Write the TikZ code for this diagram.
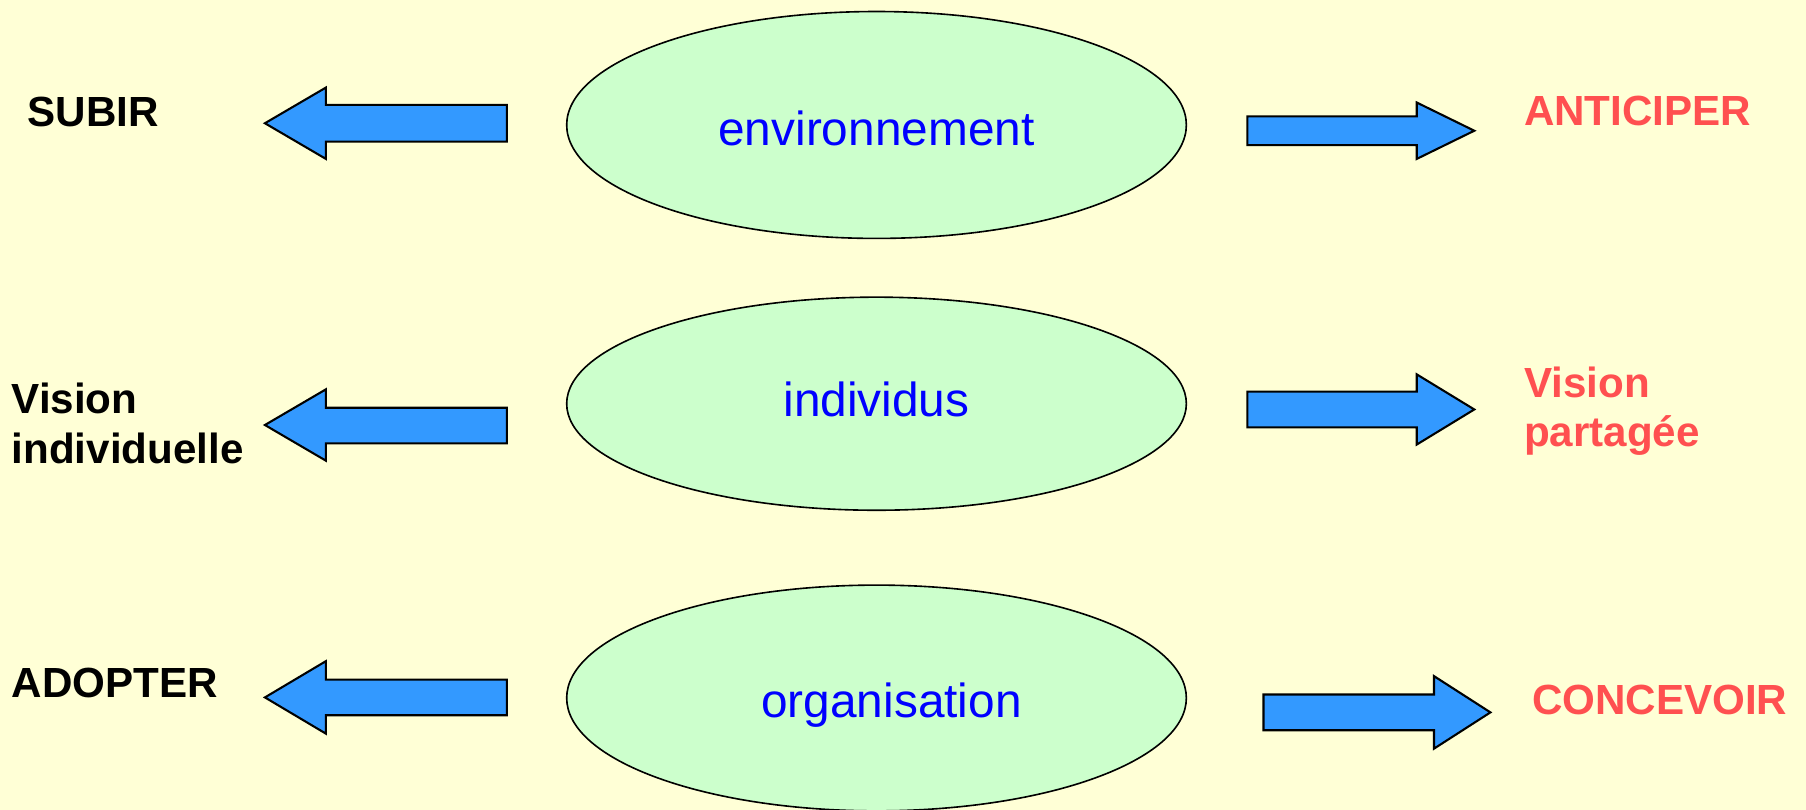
\documentclass[tikz,border=0pt]{standalone}
\usepackage{fontspec}
\setmainfont{Liberation Sans}
\usetikzlibrary{shapes.geometric}
\definecolor{bgyellow}{RGB}{255,255,214}
\definecolor{ovalgreen}{RGB}{204,255,204}
\definecolor{arrowblue}{RGB}{51,153,255}
\definecolor{labelred}{RGB}{255,80,80}
\begin{document}
\begin{tikzpicture}[x=1pt,y=-1pt,
  oval/.style={ellipse,draw=black,line width=1.4pt,fill=ovalgreen,inner sep=0pt,minimum width=538pt},
  ovaltext/.style={anchor=base,text=blue,font=\fontsize{41.5}{48}\selectfont},
  blockarrow/.style={draw=black,line width=1.8pt,fill=arrowblue,line join=miter},
  lefttext/.style={anchor=base west,text=black,font=\bfseries\fontsize{36.6}{43}\selectfont,inner sep=0pt},
  righttext/.style={anchor=base west,text=labelred,font=\bfseries\fontsize{36.6}{43}\selectfont,inner sep=0pt}]
  % page
  \fill[bgyellow] (0,0) rectangle (1568,703);
  \useasboundingbox (0,0) rectangle (1568,703);
  \begin{scope}
  \clip (0,0) rectangle (1568,703);

  % central ovals
  \node[oval,minimum height=197pt] (env) at (761,108.5) {};
  \node[oval,minimum height=185pt] (ind) at (761,350.5) {};
  \node[oval,minimum height=196pt] (org) at (761,606) {};
  \node[ovaltext] (envtxt) at (761,126) {environnement};
  \node[ovaltext] (indtxt) at (761,362) {individus};
  \node[ovaltext] (orgtxt) at (774,623) {organisation};

  % arrows pointing left
  \draw[blockarrow] (230,107) -- (283,76) -- (283,91) -- (440,91) -- (440,123) -- (283,123) -- (283,138) -- cycle;
  \draw[blockarrow] (230,369) -- (283,338) -- (283,354) -- (440,354) -- (440,385) -- (283,385) -- (283,400) -- cycle;
  \draw[blockarrow] (230,605.5) -- (283,574) -- (283,590) -- (440,590) -- (440,621) -- (283,621) -- (283,637) -- cycle;

  % arrows pointing right
  \draw[blockarrow] (1083,101) -- (1230,101) -- (1230,89) -- (1280,113.5) -- (1230,138) -- (1230,126) -- (1083,126) -- cycle;
  \draw[blockarrow] (1083,340) -- (1230,340) -- (1230,325) -- (1280,355.5) -- (1230,386) -- (1230,371) -- (1083,371) -- cycle;
  \draw[blockarrow] (1097,603) -- (1245,603) -- (1245,587) -- (1294,618.5) -- (1245,650) -- (1245,634) -- (1097,634) -- cycle;
  \end{scope}

  % labels on the left
  \node[lefttext] (subir) at (24,110) {SUBIR};
  \node[lefttext] (vis1) at (10,359) {Vision};
  \node[lefttext] (indiv) at (10,402) {individuelle};
  \node[lefttext] (adopter) at (10,606) {ADOPTER};

  % labels on the right
  \node[righttext] (antic) at (1323,109) {ANTICIPER};
  \node[righttext] (vis2) at (1323,345) {Vision};
  \node[righttext] (part) at (1323,388) {partagée};
  \node[righttext] (conc) at (1330,620) {CONCEVOIR};
\end{tikzpicture}
\end{document}
